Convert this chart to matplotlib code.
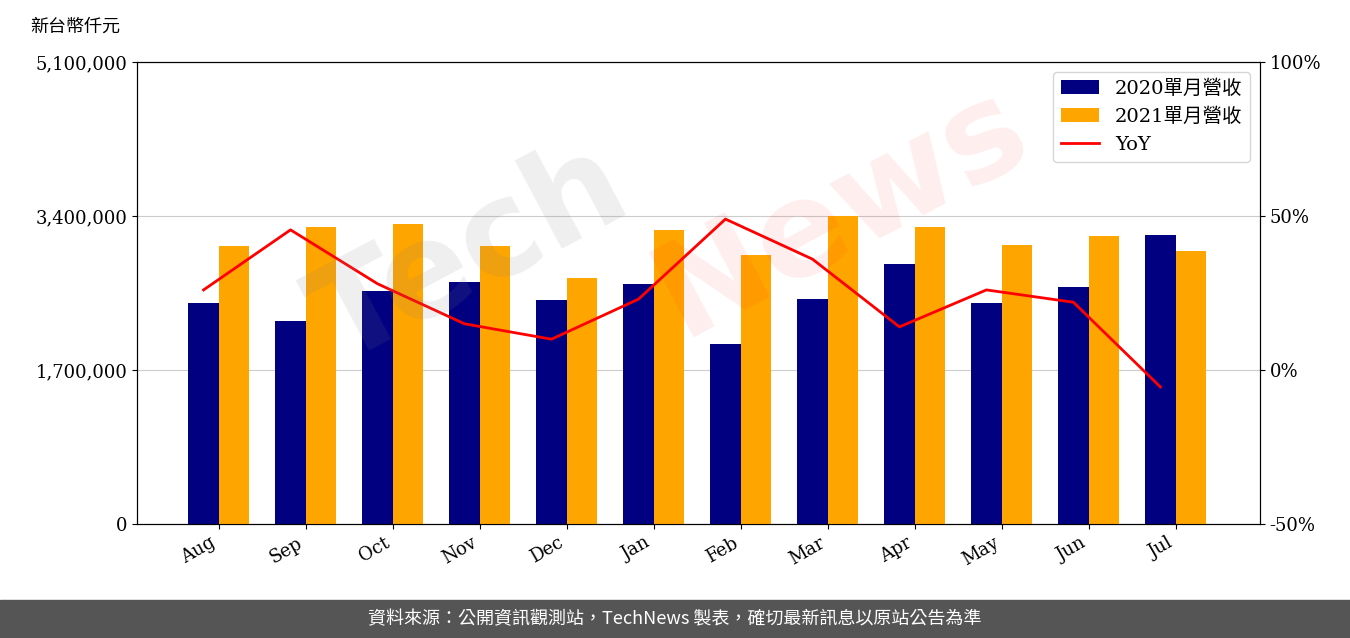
import matplotlib
matplotlib.use("Agg")
import matplotlib.pyplot as plt
import numpy as np

months = ["Aug","Sep","Oct","Nov","Dec","Jan","Feb","Mar","Apr","May","Jun","Jul"]
rev2020 = [2440000,2240000,2570000,2670000,2470000,2650000,1990000,2480000,2870000,2440000,2620000,3190000]
rev2021 = [3070000,3280000,3310000,3070000,2720000,3250000,2970000,3400000,3280000,3080000,3180000,3010000]
yoy = [26,45.5,28,15,10,23,49,36,14,26,22,-5.5]

plt.rcParams['font.family'] = ['DejaVu Serif', 'Noto Sans CJK TC']
fig = plt.figure(figsize=(13.5,6.38), dpi=100)
ax = fig.add_axes([137/1350, 1-524/638, (1260-137)/1350, 462/638])
x = np.arange(len(months))
w = 0.35
ax.bar(x-w/2, rev2020, w, color='#000080', label='2020單月營收', zorder=3)
ax.bar(x+w/2, rev2021, w, color='#FFA500', label='2021單月營收', zorder=3)
ax.set_ylim(0,5100000)
ax.set_yticks([0,1700000,3400000,5100000])
ax.set_yticklabels(['0','1,700,000','3,400,000','5,100,000'], fontsize=13)
ax.grid(axis='y', color='#cccccc', zorder=0)
ax.set_xticks(x)
ax.set_xticklabels(months, rotation=30, ha='right', fontsize=13)
ax.set_xlim(-0.94, 11.97)
ax2 = ax.twinx()
ax2.plot(x - w/2, yoy, color='red', lw=2, label='YoY')
ax2.set_ylim(-50,100)
ax2.set_yticks([-50,0,50,100])
ax2.set_yticklabels(['-50%','0%','50%','100%'], fontsize=13)
h1,l1 = ax.get_legend_handles_labels(); h2,l2 = ax2.get_legend_handles_labels()
ax2.legend(h1+h2, l1+l2, loc='upper right', fontsize=14)
fig.text(30/1350, 1-27/638, '新台幣仟元', fontsize=13, va='center')
fig.text(0.48, 0.6, 'Tech', fontsize=95, color='gray', alpha=0.13, rotation=28,
         ha='right', va='center', family='DejaVu Sans', weight='bold')
fig.text(0.47, 0.67, 'News', fontsize=95, color='red', alpha=0.07, rotation=28,
         ha='left', va='center', family='DejaVu Sans', weight='bold')
fig.patches.append(plt.Rectangle((0,0),1,38/638, transform=fig.transFigure, color='#555555', zorder=0))
fig.text(0.5, 19/638, '資料來源：公開資訊觀測站，TechNews 製表，確切最新訊息以原站公告為準', color='white',
         fontsize=13, ha='center', va='center', family=['Noto Sans CJK TC'])
fig.savefig('out.png')
